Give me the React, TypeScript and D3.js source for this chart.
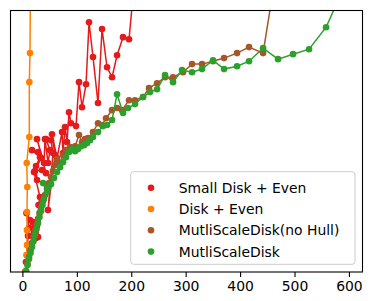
import * as d3 from "d3";

const smallDiskX = [3.9, 5.7, 7.5, 8.5, 9.4, 11.2, 6.6, 13.0, 16.7, 18.6, 24.1, 25.9, 27.8, 28.7, 31.4, 20.4, 25.9, 24.1, 31.4, 16.7, 27.8, 33.3, 22.2, 35.1, 42.5, 25.9, 38.8, 40.6, 46.1, 49.8, 42.5, 51.6, 55.3, 46.1, 59.0, 53.5, 62.7, 71.9, 73.7, 77.4, 81.1, 84.7, 88.4, 97.6, 103.1, 108.6, 116.0, 121.5, 128.8, 138.0, 145.4, 154.6, 163.8, 173.0, 184.0, 195.0, 210.0];
const smallDiskY = [0, 3.8, 6.5, 10.3, 13.8, 16.8, 22.5, 19.9, 13.8, 19.1, 13.0, 17.6, 13.4, 25.6, 28.7, 38.2, 35.2, 40.5, 43.9, 46.6, 45.9, 43.6, 38.6, 39.0, 37.8, 50.8, 41.7, 50.8, 41.7, 46.6, 50.8, 50.4, 45.5, 23.7, 44.7, 52.7, 43.6, 53.5, 45.5, 55.4, 49.7, 61.1, 56.9, 55.8, 72.6, 63.0, 71.8, 95.5, 82.2, 64.6, 92.9, 78.3, 74.5, 82.9, 89.8, 89.0, 123.0];

const diskX = [5.7, 6.6, 7.5, 7.5, 7.5, 8.1, 7.0, 11.8, 11.8, 13.0, 14.9];
const diskY = [0, 6.5, 10.3, 16.0, 22.9, 32.5, 41.7, 51.6, 72.6, 83.7, 142];

const noHullX = [5.7, 8.5, 11.2, 14.0, 16.7, 19.5, 22.2, 25.0, 27.8, 30.5, 33.3, 36.9, 40.6, 44.3, 48.0, 51.6, 55.3, 59.0, 62.7, 68.2, 73.7, 79.2, 86.6, 95.8, 103.1, 108.6, 114.1, 119.7, 128.8, 138.0, 145.4, 152.7, 163.8, 173.0, 182.2, 195.0, 206.0, 220.7, 231.7, 246.5, 261.2, 275.9, 294.2, 310.8, 329.1, 349.3, 369.6, 393.5, 415.5, 441.3, 474.5];
const noHullY = [0.4, 3.1, 5.7, 8.4, 11.1, 13.4, 15.7, 18.0, 20.3, 22.5, 24.8, 27.1, 29.4, 31.7, 34.0, 36.3, 38.6, 40.9, 43.2, 41.7, 44.7, 46.6, 47.8, 48.1, 52.4, 49.7, 50.8, 51.2, 53.5, 56.9, 56.2, 58.8, 61.9, 62.7, 61.9, 65.7, 65.7, 66.9, 70.3, 72.2, 74.5, 74.5, 76.4, 79.5, 79.5, 80.6, 81.8, 83.7, 86.0, 83.7, 126.9];

const multiX = [5.7, 8.5, 11.2, 14.0, 16.7, 19.5, 22.2, 25.0, 27.8, 30.5, 33.3, 36.0, 38.8, 44.3, 36.9, 46.1, 51.6, 57.2, 62.7, 68.2, 73.7, 79.2, 84.7, 90.2, 95.8, 101.3, 106.8, 112.3, 117.8, 123.3, 128.8, 138.0, 147.2, 154.6, 163.8, 173.0, 184.0, 193.2, 206.0, 220.7, 233.6, 246.5, 261.2, 275.9, 292.4, 310.8, 329.1, 349.3, 369.6, 393.5, 415.5, 441.3, 468.8, 496.4, 525.8, 557.1, 595.7];
const multiY = [0.4, 2.7, 5.0, 7.3, 9.6, 11.8, 14.1, 16.4, 18.7, 21.0, 23.3, 25.6, 27.9, 30.6, 34.0, 32.1, 33.6, 35.9, 38.2, 40.1, 42.0, 43.9, 45.9, 47.0, 46.2, 47.0, 48.1, 48.5, 49.3, 50.4, 51.6, 53.5, 55.8, 56.2, 58.1, 68.0, 60.8, 62.7, 64.2, 66.9, 68.8, 69.9, 75.3, 72.6, 77.2, 76.4, 77.6, 81.0, 77.6, 78.7, 80.6, 85.6, 81.4, 83.3, 85.2, 93.6, 111.6];

const labels = ["Small Disk + Even", "Disk + Even", "MutliScaleDisk(no Hull)", "MutliScaleDisk"];
const colors = ["#e41a1c", "#ff7f00", "#a65628", "#2ca02c"];
const xTicks = [0, 100, 200, 300, 400, 500, 600];

const W = 373;
const H = 301;
const left = 10.5;
const right = 362.5;
const top = 10.5;
const bottom = 272;

export default function App() {
  const x = d3.scaleLinear().domain([-22.8, 624]).range([left, right]);
  const y = d3.scaleLinear().domain([0, 100]).range([bottom, top]);

  const series = [
    smallDiskX.map((v, i) => [v, smallDiskY[i]]),
    diskX.map((v, i) => [v, diskY[i]]),
    noHullX.map((v, i) => [v, noHullY[i]]),
    multiX.map((v, i) => [v, multiY[i]]),
  ];

  const line = d3
    .line<number[]>()
    .x((d) => x(d[0]))
    .y((d) => y(d[1]));

  const font = "'DejaVu Sans', sans-serif";

  return (
    <svg
      width={W}
      height={H}
      style={{ position: "fixed", left: 0, top: 0, background: "#fff" }}
    >
      <defs>
        <clipPath id="plot">
          <rect x={left} y={top} width={right - left} height={bottom - top} />
        </clipPath>
      </defs>
      <g clipPath="url(#plot)">
        {series.map((pts, s) => (
          <g key={s}>
            <path d={line(pts as any) || ""} fill="none" stroke={colors[s]} strokeWidth={1.5} />
            {pts.map((p, i) => (
              <circle key={i} cx={x(p[0])} cy={y(p[1])} r={3.3} fill={colors[s]} />
            ))}
          </g>
        ))}
      </g>
      <rect
        x={left}
        y={top}
        width={right - left}
        height={bottom - top}
        fill="none"
        stroke="#000"
        strokeWidth={1.1}
      />
      {xTicks.map((t) => (
        <g key={t} transform={`translate(${x(t)},${bottom})`}>
          <line y1={0} y2={4.9} stroke="#000" strokeWidth={1.1} />
          <text
            y={19}
            textAnchor="middle"
            fontFamily={font}
            fontSize={13.9}
            fill="#000"
          >
            {t}
          </text>
        </g>
      ))}
      <g transform="translate(130.7,171.7)">
        <rect
          width={224.3}
          height={92.6}
          rx={3}
          fill="#fff"
          fillOpacity={0.8}
          stroke="#cccccc"
          strokeWidth={1}
        />
        {labels.map((l, i) => (
          <g key={l} transform={`translate(0,${16 + i * 21.3})`}>
            <circle cx={20.3} cy={0} r={3.3} fill={colors[i]} />
            <text x={48} y={5} fontFamily={font} fontSize={13.9} fill="#000">
              {l}
            </text>
          </g>
        ))}
      </g>
    </svg>
  );
}
